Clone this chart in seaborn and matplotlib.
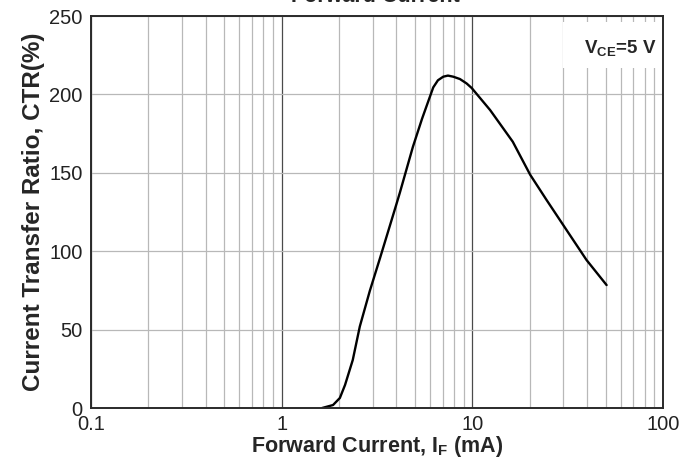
import pandas as pd
import matplotlib
matplotlib.use("Agg")
import matplotlib.pyplot as plt
import seaborn as sns
from matplotlib.patches import Rectangle
from matplotlib.ticker import FixedLocator, NullFormatter

# CTR vs forward current
forward_current_ma = [1.63, 1.86, 2.02, 2.15, 2.36, 2.57, 2.90, 3.28, 3.70, 4.01,
                      4.17, 4.88, 5.45, 5.99, 6.24, 6.60, 7.04, 7.45, 7.94, 8.61,
                      9.33, 9.92, 12.4, 16.3, 20.1, 24.5, 31.2, 39.7, 50.6]
ctr_percent = [0.0, 1.9, 6.4, 14.7, 30.6, 52.0, 74.7, 95.6, 116.5, 130.5,
               137.4, 166.6, 184.5, 198.5, 204.5, 209.0, 211.3, 212.0, 211.3, 209.8,
               207.0, 204.1, 190.0, 169.8, 148.8, 132.7, 113.5, 94.4, 78.4]

x_ticks = [0.1, 1, 10, 100]
x_tick_labels = ["0.1", "1", "10", "100"]
y_ticks = [0, 50, 100, 150, 200, 250]

df = pd.DataFrame({"If": forward_current_ma, "CTR": ctr_percent})

sns.set_style("white")
plt.rcParams["font.family"] = ["Liberation Sans", "DejaVu Sans"]
plt.rcParams["mathtext.fontset"] = "custom"
plt.rcParams["mathtext.rm"] = "Liberation Sans"
plt.rcParams["mathtext.bf"] = "Liberation Sans:bold"

fig = plt.figure(figsize=(6.96, 4.68), dpi=100)
ax = fig.add_axes([0.1307, 0.1282, 0.8219, 0.8376])

sns.lineplot(data=df, x="If", y="CTR", ax=ax, color="black", linewidth=1.7)

ax.set_xscale("log")
ax.set_xlim(0.1, 100)
ax.set_ylim(0, 250)

ax.xaxis.set_major_locator(FixedLocator(x_ticks))
ax.set_xticklabels(x_tick_labels)
minor = [m * d for d in [0.1, 1, 10] for m in range(2, 10)]
ax.xaxis.set_minor_locator(FixedLocator(minor))
ax.xaxis.set_minor_formatter(NullFormatter())
ax.set_yticks(y_ticks)

# grid: light minor verticals, darker decade lines
ax.set_axisbelow(True)
ax.grid(True, which="minor", axis="x", color="#b8b8b8", linewidth=0.9)
ax.grid(True, which="major", axis="x", color="#4a4a4a", linewidth=0.9)
ax.grid(True, which="major", axis="y", color="#b8b8b8", linewidth=0.9)

ax.tick_params(axis="both", which="major", direction="in", length=0, labelsize=14.5,
               colors="#222222", pad=2)
ax.tick_params(axis="x", which="minor", length=0)
ax.tick_params(axis="x", which="major", pad=5)
ax.tick_params(axis="y", which="major", length=5, color="#333333", pad=6)

for s in ax.spines.values():
    s.set_color("#2a2a2a")
    s.set_linewidth(1.4)

ax.set_xlabel(r"Forward Current, $\mathbf{I_F}$ (mA)", fontsize=15.5,
              fontweight="bold", labelpad=0)
ax.set_ylabel("Current Transfer Ratio, CTR(%)", fontsize=17.5,
              fontweight="bold", labelpad=3)

# white patch behind the condition note
ax.add_patch(Rectangle((0.825, 0.867), 0.175, 0.118, transform=ax.transAxes,
                       facecolor="white", edgecolor="none", zorder=1))
ax.text(0.925, 0.905, r"$\mathbf{V_{CE}}$=5 V", transform=ax.transAxes,
        ha="center", va="baseline", fontsize=13.5, fontweight="bold", zorder=3)

fig.text(0.54, 0.985, "Forward Current", ha="center", va="bottom",
         fontsize=15.5, fontweight="bold")

fig.savefig("out.png", dpi=100)
